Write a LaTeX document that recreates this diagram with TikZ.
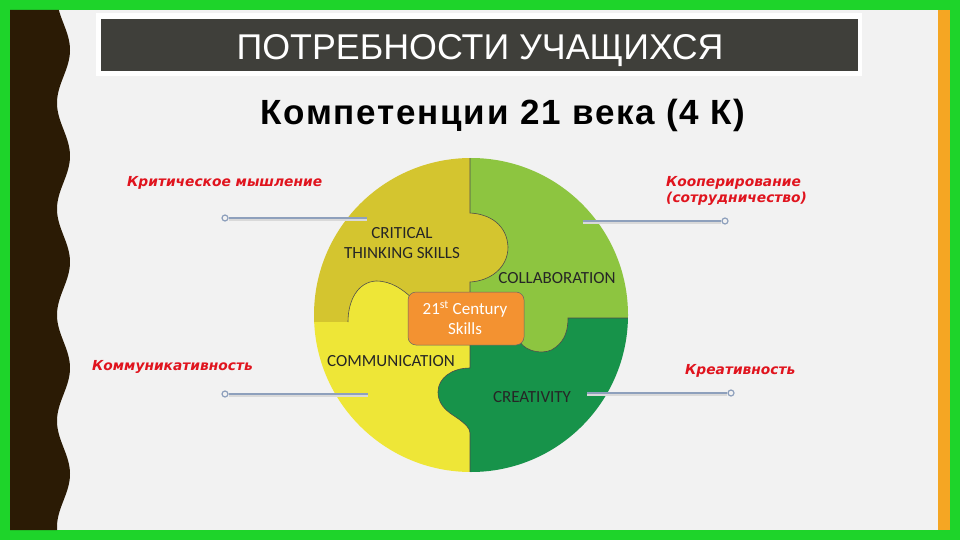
\documentclass[tikz,border=0pt]{standalone}
\usepackage{fontspec}
\setmainfont{Liberation Sans}
\newfontfamily\lblfont{DejaVu Sans}
\newfontfamily\pzfont{Carlito}
\newfontfamily\subfont[LetterSpace=5]{Liberation Sans}
\definecolor{bordergreen}{HTML}{1ED42A}
\definecolor{bgray}{HTML}{F2F2F2}
\definecolor{darkbrown}{HTML}{2B1B05}
\definecolor{stripor}{HTML}{F5A623}
\definecolor{titlebg}{HTML}{3F3F3A}
\definecolor{critc}{HTML}{D4C52F}
\definecolor{collc}{HTML}{8DC540}
\definecolor{commc}{HTML}{EEE637}
\definecolor{creac}{HTML}{17934A}
\definecolor{orangec}{HTML}{F39231}
\definecolor{redlbl}{HTML}{E0141E}
\definecolor{connc}{HTML}{8EA0BC}
\tikzset{
  redlabel/.style={text=redlbl, font=\lblfont\bfseries\itshape\fontsize{13.8}{16}\selectfont, align=left, inner sep=0pt},
  pzlabel/.style={text=black!85, font=\pzfont\fontsize{17}{20}\selectfont, align=center, inner sep=0pt},
  dotend/.style={circle, draw=connc, fill=bgray, line width=1.2pt, minimum size=6pt, inner sep=0pt},
  connline/.style={draw=connc, line width=2.6pt},
  connshadow/.style={draw=black!15, line width=2pt},
  seam/.style={draw=black!70, line width=0.6pt},
}
\begin{document}
\begin{tikzpicture}[x=1pt,y=-1pt]
\useasboundingbox (0,0) rectangle (960,540);
% frame
\fill[bordergreen] (0,0) rectangle (960,540);
\fill[bgray] (10,10) rectangle (950,530);
\fill[stripor] (938,10) rectangle (950,530);
\fill[darkbrown] (10,10) -- plot[domain=10:530, samples=260] ({63.5+6.5*cos((\x-50)*3.3962)}, \x) -- (10,530) -- cycle;
% title
\fill[white] (96,13) rectangle (862,76);
\fill[titlebg] (101,19) rectangle (858,71);
\node[text=white, font=\fontsize{35.8}{38}\selectfont, inner sep=0pt, anchor=base] (title) at (480,60) {ПОТРЕБНОСТИ УЧАЩИХСЯ};
\node[text=black, font=\subfont\bfseries\fontsize{35}{38}\selectfont, inner sep=0pt, anchor=base] (subtitle) at (503,125) {Компетенции 21 века (4 К)};
% puzzle
\begin{scope}
\clip (471,315) circle (157);
\fill[critc] (300,140) rectangle (470,318);
\fill[collc] (470,140) rectangle (640,318);
\fill[commc] (300,318) rectangle (470,490);
\fill[creac] (470,318) rectangle (640,490);
\fill[critc] (300,318) rectangle (348,322);
% critical tab
\path[fill=critc] (470,213) .. controls (490,214) and (507,225) .. (508,247) .. controls (508,268) and (490,281) .. (470,282) -- cycle;
% communication tab
\path[fill=commc] (348,320) .. controls (348,300) and (358,282) .. (376,281) .. controls (392,281) and (403,290) .. (412,298) -- (412,320) -- cycle;
% collaboration tab
\path[fill=collc] (520,318) -- (520,342) .. controls (526,352) and (546,356) .. (556,347) .. controls (565,340) and (568,330) .. (568,318) -- cycle;
% creativity tab
\path[fill=creac] (470,368) .. controls (452,368) and (438,378) .. (438,392) .. controls (438,408) and (452,414) .. (460,420) .. controls (465,424) and (470,428) .. (470,433) -- cycle;
% seams
\draw[seam] (470,150) -- (470,213) .. controls (490,214) and (507,225) .. (508,247) .. controls (508,268) and (490,281) .. (470,282) -- (470,295);
\draw[seam] (348,322) .. controls (348,300) and (358,282) .. (376,281) .. controls (392,281) and (403,290) .. (412,298);
\draw[seam] (520,342) .. controls (526,352) and (546,356) .. (556,347) .. controls (565,340) and (568,330) .. (568,318) -- (635,318);
\draw[seam] (470,340) -- (470,368) .. controls (452,368) and (438,378) .. (438,392) .. controls (438,408) and (452,414) .. (460,420) .. controls (465,424) and (470,428) .. (470,433) -- (470,480);
\end{scope}
% center box
\node[fill=orangec, draw=black!60, line width=0.5pt, rounded corners=8pt, minimum width=116pt, minimum height=53pt, inner sep=0pt] (center) at (466,318.5) {};
\node[text=white, font=\pzfont\fontsize{17}{19.5}\selectfont, align=center, inner sep=0pt] (centertext) at (465,317.5) {21\textsuperscript{st} Century\\Skills};
% puzzle labels
\node[pzlabel] (critlbl) at (402,243) {CRITICAL\\THINKING SKILLS};
\node[pzlabel] (colllbl) at (557,278) {COLLABORATION};
\node[pzlabel] (commlbl) at (391,361) {COMMUNICATION};
\node[pzlabel] (crealbl) at (532,397) {CREATIVITY};
% red labels
\node[redlabel, anchor=west] (l1) at (127,183) {Критическое мышление};
\node[redlabel, anchor=west] (l2) at (666,191) {Кооперирование\\(сотрудничество)};
\node[redlabel, anchor=west] (l3) at (92,367) {Коммуникативность};
\node[redlabel, anchor=west] (l4) at (685,371) {Креативность};
% connectors
\coordinate (e1) at (367,218);
\coordinate (e2) at (583,221);
\coordinate (e3) at (368,394);
\coordinate (e4) at (587,393);
\node[dotend] (d1) at (225,218) {};
\node[dotend] (d2) at (725,221) {};
\node[dotend] (d3) at (225,394) {};
\node[dotend] (d4) at (731,393) {};
\draw[connshadow] ([yshift=-2pt]d1.east) -- ([yshift=-2pt]e1);
\draw[connshadow] ([yshift=-2pt]e2) -- ([yshift=-2pt]d2.west);
\draw[connshadow] ([yshift=-2pt]d3.east) -- ([yshift=-2pt]e3);
\draw[connshadow] ([yshift=-2pt]e4) -- ([yshift=-2pt]d4.west);
\draw[connline] (d1) -- (e1);
\draw[connline] (e2) -- (d2);
\draw[connline] (d3) -- (e3);
\draw[connline] (e4) -- (d4);
\end{tikzpicture}
\end{document}
